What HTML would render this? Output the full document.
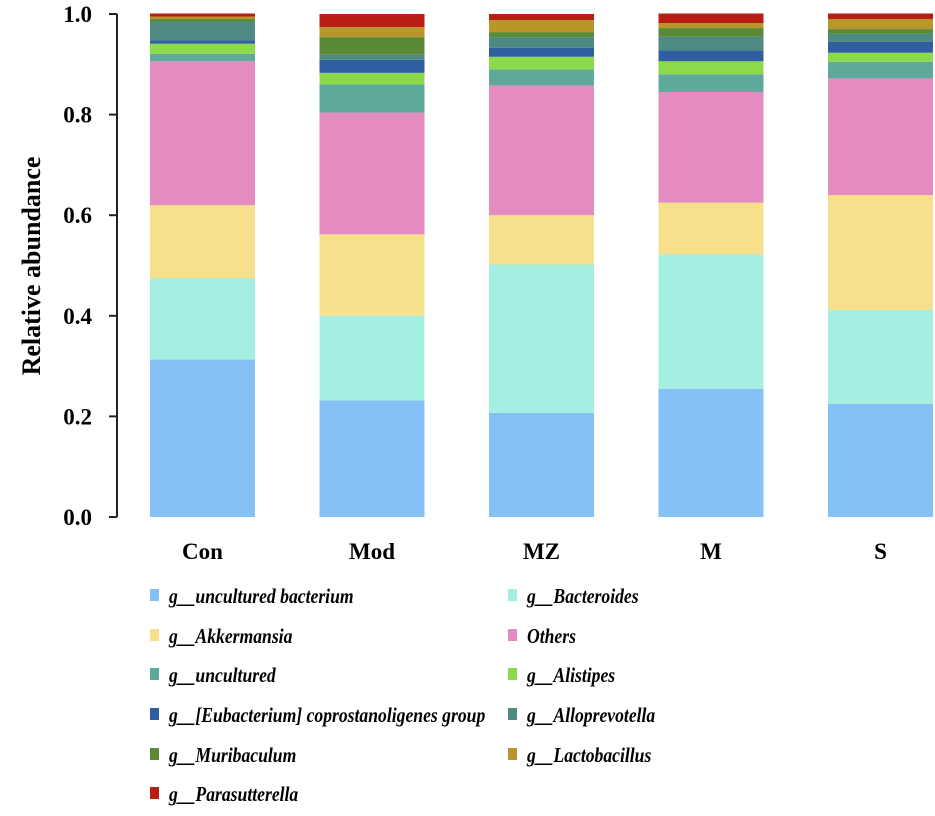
<!DOCTYPE html>
<html><head><meta charset="utf-8"><style>
html,body{margin:0;padding:0;background:#fff;}
svg text{font-family:"Liberation Serif",serif;font-weight:bold;}
</style></head><body>
<svg id="chart" width="935" height="811" xmlns="http://www.w3.org/2000/svg">
<g id="bars"></g>
<g id="axis"></g>
<g id="xlabels"></g>
<text x="40" y="266" font-size="26" text-anchor="middle" transform="rotate(-90 40 266)">Relative abundance</text>
<g id="legend"></g>
</svg>
<script>
const categories = ["Con","Mod","MZ","M","S"];
const seriesNames = ["g__uncultured bacterium","g__Bacteroides","g__Akkermansia","Others","g__uncultured","g__Alistipes","g__[Eubacterium] coprostanoligenes group","g__Alloprevotella","g__Muribaculum","g__Lactobacillus","g__Parasutterella"];
const seriesColors = ["#85c1f5","#a4efe2","#f7e08c","#e48cc0","#5fa99a","#8cd94a","#2f5f9e","#4e8a82","#5a8a35","#b8962a","#b81e14"];
const sUnculturedBacterium = [0.313,0.232,0.207,0.255,0.225];
const sBacteroides = [0.162,0.168,0.295,0.267,0.187];
const sAkkermansia = [0.145,0.162,0.098,0.103,0.228];
const sOthers = [0.286,0.242,0.258,0.220,0.232];
const sUncultured = [0.015,0.056,0.032,0.035,0.033];
const sAlistipes = [0.020,0.023,0.025,0.026,0.018];
const sEubacterium = [0.007,0.026,0.018,0.022,0.022];
const sAlloprevotella = [0.037,0.010,0.021,0.027,0.016];
const sMuribaculum = [0.005,0.035,0.010,0.017,0.009];
const sLactobacillus = [0.005,0.020,0.024,0.010,0.020];
const sParasutterella = [0.006,0.026,0.012,0.019,0.011];
const yTicks = [0,0.2,0.4,0.6,0.8,1.0];
const yTickLabels = ["0.0","0.2","0.4","0.6","0.8","1.0"];

const series = [sUnculturedBacterium,sBacteroides,sAkkermansia,sOthers,sUncultured,sAlistipes,sEubacterium,sAlloprevotella,sMuribaculum,sLactobacillus,sParasutterella];
const NS="http://www.w3.org/2000/svg";
const y0=517, y1=14;
function yScale(v){return y0-(y0-y1)*v;}
function xScale(i){return 150+i*169.5;}
const bw=105;
function mk(tag,attrs,parent){const e=document.createElementNS(NS,tag);for(const k in attrs)e.setAttribute(k,attrs[k]);parent.appendChild(e);return e;}
const bars=document.getElementById('bars');
categories.forEach((c,i)=>{
  let cum=0;
  series.forEach((s,j)=>{
    const v=s[i];
    const r=mk('rect',{x:xScale(i),y:yScale(cum+v),width:bw,height:yScale(cum)-yScale(cum+v),fill:seriesColors[j]},bars);
    
    
    cum+=v;
  });
  const t=mk('text',{x:xScale(i)+bw/2,y:559,'font-size':23,'text-anchor':'middle'},document.getElementById('xlabels'));
  t.textContent=c;
  
  
});
const ax=document.getElementById('axis');
const al=mk('line',{x1:117,x2:117,y1:yScale(1),y2:yScale(0),stroke:'#222','stroke-width':2},ax);


yTicks.forEach((v,k)=>{
  const l=mk('line',{x1:109,x2:117,y1:yScale(v),y2:yScale(v),stroke:'#222','stroke-width':2},ax);
  
  
  const t=mk('text',{x:92,y:yScale(v)+8,'font-size':23,'text-anchor':'end'},ax);
  t.textContent=yTickLabels[k];
  
  
});
const lg=document.getElementById('legend');
const rowsY=[596,636,675,715,755,794];
seriesNames.forEach((n,j)=>{
  const col=j%2, row=Math.floor(j/2);
  const x=col?513:155, y=rowsY[row];
  const g=mk('g',{},lg);
  
  
  mk('rect',{x:x-5,y:y-7,width:9,height:12,fill:seriesColors[j]},g);
  const t=mk('text',{x:0,y:0,'font-size':21,'font-style':'italic',transform:'translate('+(x+14)+','+(y+7)+') scale(0.84,1)'},g);
  t.textContent=n;
});
</script>
</body></html>
